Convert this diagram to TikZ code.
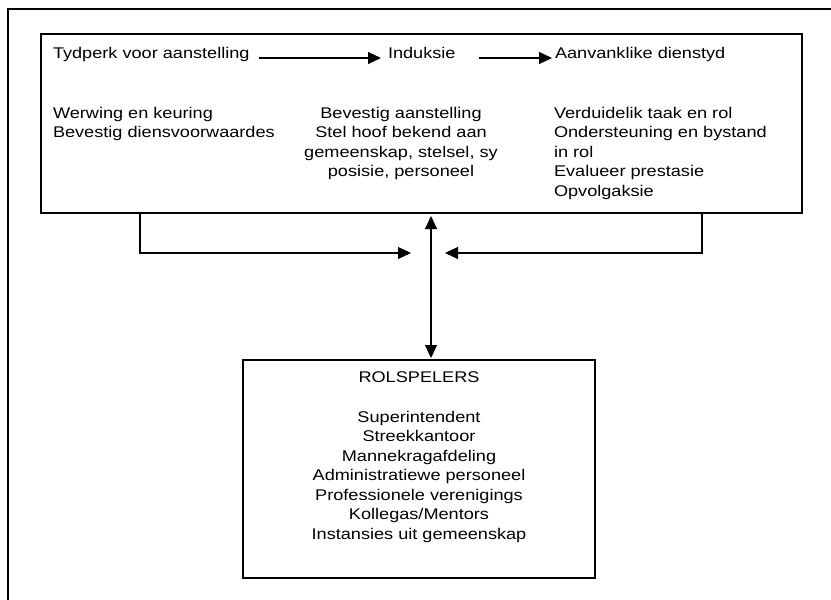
\documentclass[tikz,border=0pt]{standalone}
\usepackage{fontspec}
\usetikzlibrary{arrows.meta}
\newfontfamily\bodyfont{Liberation Sans}[FakeStretch=1.17]
\newcommand\colL[1]{\begin{tabular}[t]{@{}l@{}}#1\end{tabular}}
\newcommand\colC[1]{\begin{tabular}[t]{@{}c@{}}#1\end{tabular}}
\begin{document}
\begin{tikzpicture}[x=1pt,y=-1pt,
  line width=1.1pt,
  txt/.style={inner sep=0pt,outer sep=0pt,font=\bodyfont\fontsize{15.5}{19.5}\selectfont},
  frame/.style={draw,inner sep=0pt,outer sep=0pt},
  tip/.style={-{Triangle[length=13pt,width=12pt]}},
  dtip/.style={{Triangle[length=13pt,width=12pt]}-{Triangle[length=13pt,width=12pt]}}]
\useasboundingbox (0,0) rectangle (831,600);

% page frame: left and top edges only
\draw (8,600) -- (8,9) -- (831,9);

% boxes
\node[frame,minimum width=761pt,minimum height=179pt] (topbox) at (421.5,123.5) {};
\node[frame,minimum width=352pt,minimum height=218pt] (botbox) at (419,469) {};

% phase headings
\node[txt,anchor=base west] (tyd) at (53,58) {Tydperk voor aanstelling};
\node[txt,anchor=base west] (ind) at (388,58) {Induksie};
\node[txt,anchor=base west] (aan) at (555,58) {Aanvanklike dienstyd};
\draw[tip,shorten <=9pt,shorten >=7pt] (tyd.base east) -- (ind.base west);
\draw[tip,shorten <=23pt,shorten >=3pt] (ind.base east) -- (aan.base west);

% phase contents
\node[txt,anchor=base west] (c1) at (53,118) {\colL{Werwing en keuring\\Bevestig diensvoorwaardes}};
\node[txt,anchor=base] (c2) at (401,118) {\colC{Bevestig aanstelling\\Stel hoof bekend aan\\gemeenskap, stelsel, sy\\posisie, personeel}};
\node[txt,anchor=base west] (c3) at (554,118) {\colL{Verduidelik taak en rol\\Ondersteuning en bystand\\in rol\\Evalueer prestasie\\Opvolgaksie}};

% role players
\node[txt,anchor=base] (rol) at (419,382) {ROLSPELERS};
\node[txt,anchor=base] (rlist) at (419,422) {\colC{Superintendent\\Streekkantoor\\Mannekragafdeling\\Administratiewe personeel\\Professionele verenigings\\Kollegas/Mentors\\Instansies uit gemeenskap}};

% connectors
\coordinate (axis) at (431,0);
\coordinate (lft) at (140,0);
\coordinate (rgt) at (702,0);
\coordinate (lvl) at (0,253);
\draw[dtip,shorten <=3pt,shorten >=2pt] (topbox.south -| axis) -- (botbox.north -| axis);
\draw[tip] (topbox.south -| lft) |- ([xshift=-20pt]lvl -| axis);
\draw[tip] (topbox.south -| rgt) |- ([xshift=14pt]lvl -| axis);
\end{tikzpicture}
\end{document}
